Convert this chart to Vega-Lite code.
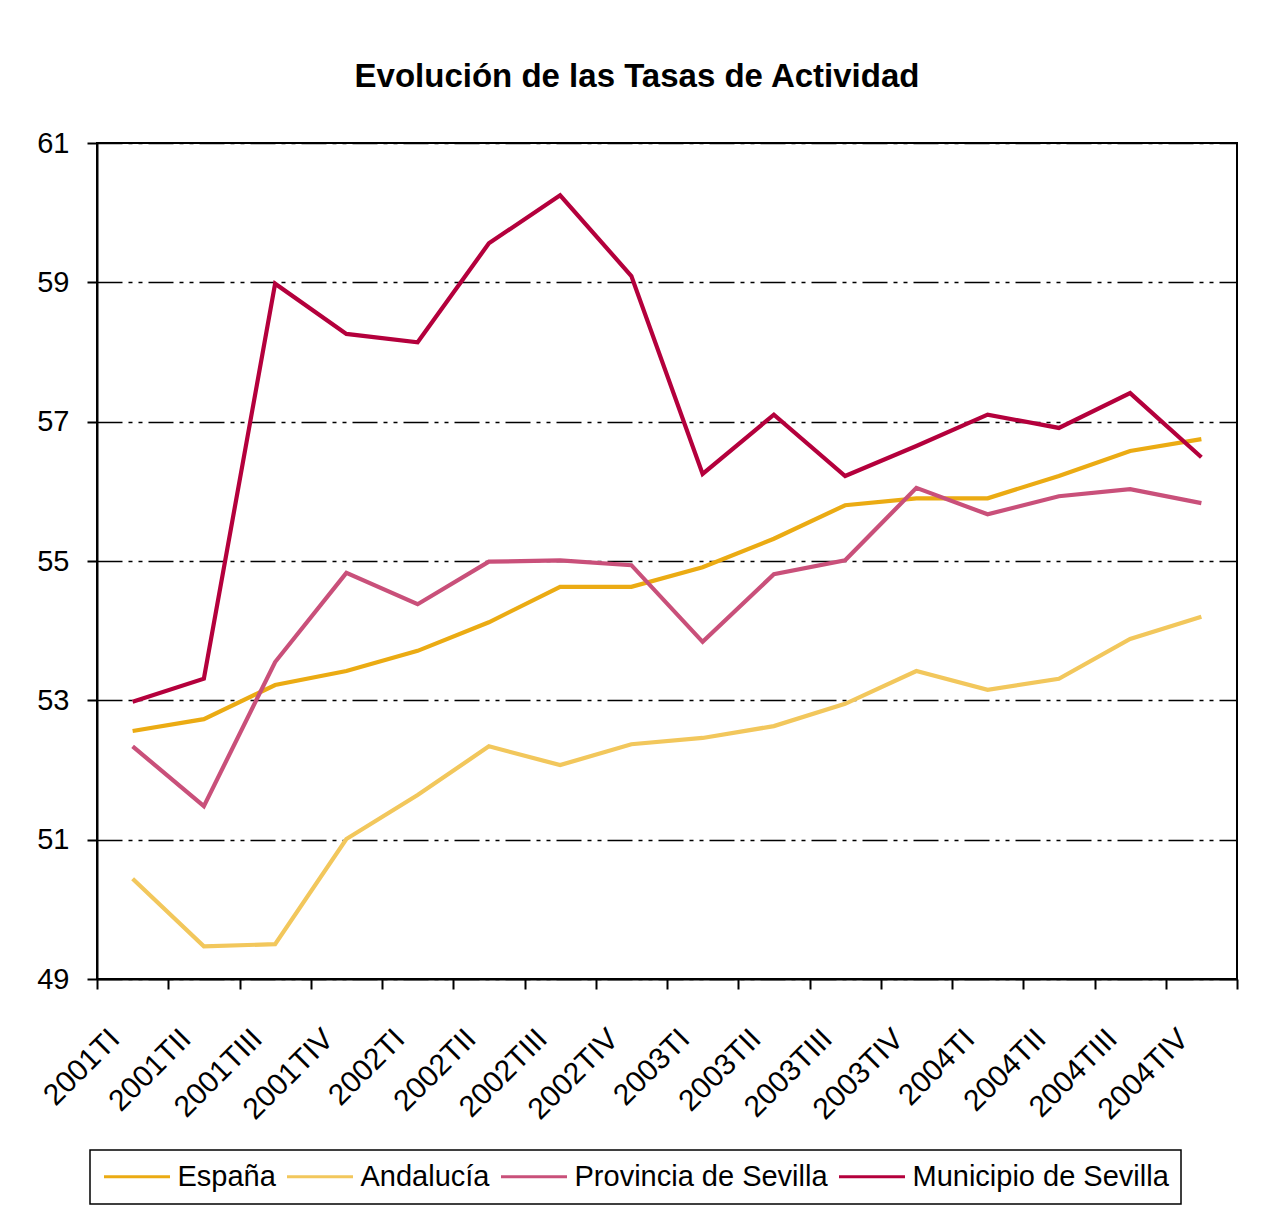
{
  "$schema": "https://vega.github.io/schema/vega-lite/v6.json",
  "width": 1140,
  "height": 836,
  "autosize": {"type": "none"},
  "padding": {"left": 97, "top": 143, "right": 24, "bottom": 245},
  "background": "white",
  "title": {"text": "Evolución de las Tasas de Actividad", "font": "Liberation Sans", "fontSize": 33, "fontWeight": "bold", "color": "black", "anchor": "middle", "dx": -30, "offset": 35},
  "datasets": {
    "d": [
      {"t": "2001TI", "s": "España", "v": 52.56}, {"t": "2001TII", "s": "España", "v": 52.73}, {"t": "2001TIII", "s": "España", "v": 53.22}, {"t": "2001TIV", "s": "España", "v": 53.42},
      {"t": "2002TI", "s": "España", "v": 53.71}, {"t": "2002TII", "s": "España", "v": 54.12}, {"t": "2002TIII", "s": "España", "v": 54.63}, {"t": "2002TIV", "s": "España", "v": 54.63},
      {"t": "2003TI", "s": "España", "v": 54.91}, {"t": "2003TII", "s": "España", "v": 55.32}, {"t": "2003TIII", "s": "España", "v": 55.80}, {"t": "2003TIV", "s": "España", "v": 55.90},
      {"t": "2004TI", "s": "España", "v": 55.90}, {"t": "2004TII", "s": "España", "v": 56.22}, {"t": "2004TIII", "s": "España", "v": 56.58}, {"t": "2004TIV", "s": "España", "v": 56.75},
      {"t": "2001TI", "s": "Andalucía", "v": 50.44}, {"t": "2001TII", "s": "Andalucía", "v": 49.47}, {"t": "2001TIII", "s": "Andalucía", "v": 49.50}, {"t": "2001TIV", "s": "Andalucía", "v": 51.01},
      {"t": "2002TI", "s": "Andalucía", "v": 51.64}, {"t": "2002TII", "s": "Andalucía", "v": 52.34}, {"t": "2002TIII", "s": "Andalucía", "v": 52.07}, {"t": "2002TIV", "s": "Andalucía", "v": 52.37},
      {"t": "2003TI", "s": "Andalucía", "v": 52.46}, {"t": "2003TII", "s": "Andalucía", "v": 52.63}, {"t": "2003TIII", "s": "Andalucía", "v": 52.95}, {"t": "2003TIV", "s": "Andalucía", "v": 53.42},
      {"t": "2004TI", "s": "Andalucía", "v": 53.15}, {"t": "2004TII", "s": "Andalucía", "v": 53.31}, {"t": "2004TIII", "s": "Andalucía", "v": 53.88}, {"t": "2004TIV", "s": "Andalucía", "v": 54.20},
      {"t": "2001TI", "s": "Provincia de Sevilla", "v": 52.34}, {"t": "2001TII", "s": "Provincia de Sevilla", "v": 51.48}, {"t": "2001TIII", "s": "Provincia de Sevilla", "v": 53.55}, {"t": "2001TIV", "s": "Provincia de Sevilla", "v": 54.83},
      {"t": "2002TI", "s": "Provincia de Sevilla", "v": 54.38}, {"t": "2002TII", "s": "Provincia de Sevilla", "v": 54.99}, {"t": "2002TIII", "s": "Provincia de Sevilla", "v": 55.01}, {"t": "2002TIV", "s": "Provincia de Sevilla", "v": 54.94},
      {"t": "2003TI", "s": "Provincia de Sevilla", "v": 53.84}, {"t": "2003TII", "s": "Provincia de Sevilla", "v": 54.81}, {"t": "2003TIII", "s": "Provincia de Sevilla", "v": 55.01}, {"t": "2003TIV", "s": "Provincia de Sevilla", "v": 56.05},
      {"t": "2004TI", "s": "Provincia de Sevilla", "v": 55.67}, {"t": "2004TII", "s": "Provincia de Sevilla", "v": 55.93}, {"t": "2004TIII", "s": "Provincia de Sevilla", "v": 56.03}, {"t": "2004TIV", "s": "Provincia de Sevilla", "v": 55.83},
      {"t": "2001TI", "s": "Municipio de Sevilla", "v": 52.98}, {"t": "2001TII", "s": "Municipio de Sevilla", "v": 53.31}, {"t": "2001TIII", "s": "Municipio de Sevilla", "v": 58.98}, {"t": "2001TIV", "s": "Municipio de Sevilla", "v": 58.26},
      {"t": "2002TI", "s": "Municipio de Sevilla", "v": 58.14}, {"t": "2002TII", "s": "Municipio de Sevilla", "v": 59.56}, {"t": "2002TIII", "s": "Municipio de Sevilla", "v": 60.25}, {"t": "2002TIV", "s": "Municipio de Sevilla", "v": 59.09},
      {"t": "2003TI", "s": "Municipio de Sevilla", "v": 56.25}, {"t": "2003TII", "s": "Municipio de Sevilla", "v": 57.10}, {"t": "2003TIII", "s": "Municipio de Sevilla", "v": 56.22}, {"t": "2003TIV", "s": "Municipio de Sevilla", "v": 56.65},
      {"t": "2004TI", "s": "Municipio de Sevilla", "v": 57.10}, {"t": "2004TII", "s": "Municipio de Sevilla", "v": 56.91}, {"t": "2004TIII", "s": "Municipio de Sevilla", "v": 57.41}, {"t": "2004TIV", "s": "Municipio de Sevilla", "v": 56.49}
    ]
  },
  "data": {"name": "d"},
  "mark": {"type": "line", "strokeWidth": 4.2, "clip": false},
  "encoding": {
    "x": {
      "field": "t", "type": "ordinal", "sort": null, "bandPosition": 0.5,
      "scale": {"type": "band", "paddingInner": 0, "paddingOuter": 0},
      "axis": {"title": null, "labelAngle": -45, "labelAlign": "right", "labelBaseline": "middle", "labelFont": "Liberation Sans", "labelFontSize": 30, "labelColor": "black", "labelPadding": 45, "labelOffset": -18, "tickBand": "extent", "tickSize": 10, "tickColor": "black", "tickWidth": 2, "domainColor": "black", "domainWidth": 2, "grid": false, "labelOverlap": false, "labelBound": false}
    },
    "y": {
      "field": "v", "type": "quantitative",
      "scale": {"domain": [49, 61], "nice": false, "zero": false},
      "axis": {"title": null, "values": [49, 51, 53, 55, 57, 59, 61], "labelFont": "Liberation Sans", "labelFontSize": 29, "labelColor": "black", "labelPadding": 18, "tickSize": 10, "tickColor": "black", "tickWidth": 2, "domainColor": "black", "domainWidth": 2, "grid": true, "gridColor": "black", "gridWidth": 1.5, "gridDash": [25, 6, 4, 6, 4, 6]}
    },
    "color": {
      "field": "s", "type": "nominal",
      "scale": {"domain": ["España", "Andalucía", "Provincia de Sevilla", "Municipio de Sevilla"], "range": ["#EBAB13", "#F2C75C", "#C9507A", "#B4003C"]},
      "legend": {"orient": "none", "legendX": -7, "legendY": 1007, "direction": "horizontal", "title": null, "symbolType": "M-3,0H3", "symbolSize": 484, "symbolStrokeWidth": 3, "symbolOffset": 20.5, "labelFont": "Liberation Sans", "labelFontSize": 29, "labelColor": "black", "labelOffset": 26, "columnPadding": 5, "padding": 12, "strokeColor": "black", "labelLimit": 400}
    }
  },
  "config": {"view": {"stroke": "black", "strokeWidth": 2}, "legend": {"strokeWidth": 1.5}}
}
